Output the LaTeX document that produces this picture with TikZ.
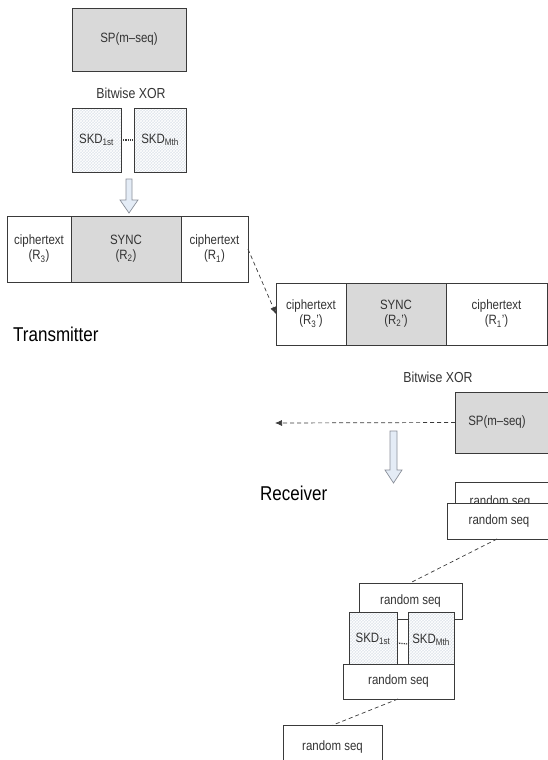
\documentclass[tikz,border=0pt]{standalone}
\usepackage{fontspec}
\setmainfont[FakeStretch=0.85]{Liberation Sans}
\usetikzlibrary{arrows.meta,patterns}
\definecolor{boxgray}{HTML}{D9D9D9}
\definecolor{skdfill}{HTML}{E0E5EC}
\definecolor{linec}{HTML}{3A3A3A}
\definecolor{txt}{HTML}{333333}
\definecolor{arrfill}{HTML}{E4ECF6}
\definecolor{arrline}{HTML}{8A8F99}
\begin{document}
\begin{tikzpicture}[x=1pt,y=-1pt,
  bx/.style={draw=linec,line width=0.8pt,inner sep=0pt,outer sep=0pt,text=txt,font=\fontsize{13.5}{15}\selectfont,align=center,anchor=north west},
  graybox/.style={bx,fill=boxgray},
  whitebox/.style={bx,fill=white},
  skdbox/.style={bx,preaction={fill=skdfill},pattern=crosshatch,pattern color=white},
  lbl/.style={text=txt,font=\fontsize{14.5}{16}\selectfont,inner sep=0pt},
  big/.style={text=black,font=\fontsize{20}{22}\selectfont,inner sep=0pt,anchor=west},
  dshline/.style={draw=linec,line width=0.7pt,dash pattern=on 4pt off 3pt},
  darr/.style={dshline,-{Latex[length=7pt,width=6pt]}},
  hollow/.style={fill=arrfill,draw=arrline,line width=0.7pt},
  dotln/.style={draw=linec,line width=1.2pt,dash pattern=on 1.2pt off 1pt}
]
\useasboundingbox (0,0) rectangle (548,760);

% Transmitter side
\node[graybox,minimum width=114pt,minimum height=63pt] (sp1) at (72,8) {SP(m\textendash seq)};
\node[lbl] (xor1) at (131,93) {Bitwise XOR};
\node[skdbox,minimum width=49pt,minimum height=64pt] (skda) at (72,108) {SKD\textsubscript{1st}};
\node[skdbox,minimum width=52pt,minimum height=64pt] (skdb) at (134,108) {SKD\textsubscript{Mth}};
\draw[dotln] (skda.east) -- (skdb.west);
\draw[hollow] (126,179) -- (132,179) -- (132,200) -- (138,200) -- (129,213) -- (120,200) -- (126,200) -- cycle;

\node[whitebox,minimum width=64pt,minimum height=66pt] (t3) at (7,216) {ciphertext\\(R\textsubscript{3})};
\node[graybox,minimum width=110pt,minimum height=66pt] (t2) at (71,216) {SYNC\\(R\textsubscript{2})};
\node[whitebox,minimum width=67pt,minimum height=66pt] (t1) at (181,216) {ciphertext\\(R\textsubscript{1})};

\node[big] (tx) at (13,334) {Transmitter};

% Receiver side
\node[whitebox,minimum width=70pt,minimum height=62pt] (r3) at (276,283) {ciphertext\\(R\textsubscript{3}')};
\node[graybox,minimum width=100pt,minimum height=62pt] (r2) at (346,283) {SYNC\\(R\textsubscript{2}')};
\node[whitebox,minimum width=101pt,minimum height=62pt] (r1) at (446,283) {ciphertext\\(R\textsubscript{1}')};
\draw[darr] (t1.east) -- (r3.west);

\node[lbl] (xor2) at (438,377) {Bitwise XOR};
\node[graybox,minimum width=100pt,minimum height=61pt] (sp2) at (455,392) {\hspace*{-8pt}SP(m\textendash seq)\hspace*{8pt}};
\coordinate (dl) at (275,423);
\draw[darr] (sp2.west) -- (dl);
\draw[hollow] (390,431) -- (397,431) -- (397,470) -- (402,470) -- (393.5,483) -- (385,470) -- (390,470) -- cycle;

\node[big] (rx) at (260,493) {Receiver};

\node[whitebox,minimum width=100pt,minimum height=40pt] (rsa) at (455,482) {\raisebox{-2pt}{random seq}\hspace*{10pt}};
\node[whitebox,minimum width=108pt,minimum height=36pt] (rsb) at (447,503) {random seq\hspace*{4pt}};

\node[whitebox,minimum width=103pt,minimum height=36pt] (rsc) at (359,583) {random seq};
\coordinate (c1) at (497,539);
\coordinate (c2) at (410,583);
\draw[dshline] (c1) -- (c2);

\node[skdbox,minimum width=48pt,minimum height=58pt] (skdc) at (349,612) {\raisebox{6pt}{SKD\textsubscript{1st}}};
\node[skdbox,minimum width=46pt,minimum height=60pt] (skdd) at (408,612) {\raisebox{6pt}{SKD\textsubscript{Mth}}};
\draw[dotln] ([yshift=-2pt]skdc.east) -- ([yshift=-2pt]skdd.west);
\node[whitebox,minimum width=111pt,minimum height=35pt] (rsd) at (343,664) {random seq};

\node[whitebox,minimum width=99pt,minimum height=45pt] (rse) at (283,725) {\raisebox{4pt}{random seq}};
\coordinate (c3) at (398,699);
\coordinate (c4) at (333,725);
\draw[dshline] (c3) -- (c4);
\end{tikzpicture}
\end{document}
